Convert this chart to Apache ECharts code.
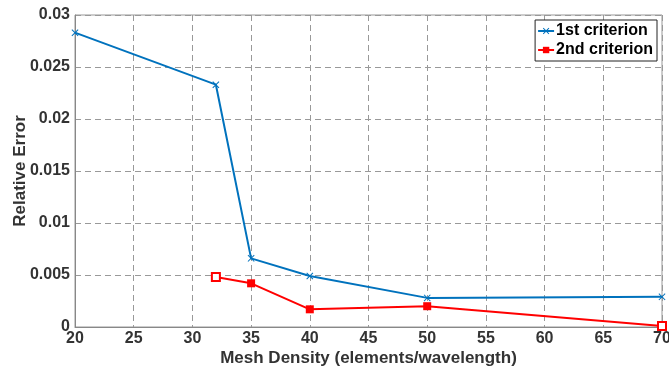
<!DOCTYPE html>
<html><head><meta charset="utf-8">
<script src="https://cdn.jsdelivr.net/npm/echarts@6/dist/echarts.min.js"></script>
<style>html,body{margin:0;padding:0;background:#fff}#c{width:669px;height:368px}</style>
</head><body><div id="c"></div>
<script>
const blueX = [20, 32, 35, 40, 50, 70];
const blueY = [0.0283, 0.0233, 0.0066, 0.0049, 0.0028, 0.0029];
const redX = [32, 35, 40, 50, 70];
const redY = [0.0048, 0.0042, 0.0017, 0.0020, 0.0001];
const seriesNames = ['1st criterion', '2nd criterion'];

const chart = echarts.init(document.getElementById('c'), null, {renderer: 'canvas'});
const font = 'Liberation Sans, Arial, sans-serif';
const xMark = 'path://M0,1L1,0L5,4L9,0L10,1L6,5L10,9L9,10L5,6L1,10L0,9L4,5Z';
const hollow = {color: '#fff', borderColor: '#FF0000', borderWidth: 2};
chart.setOption({
  animation: false,
  grid: {left: 75, right: 7, top: 15, bottom: 41, show: true, borderColor: '#999', borderWidth: 1,
         containLabel: false, outerBoundsMode: 'none'},
  legend: {
    orient: 'vertical', right: 12, top: 20,
    borderColor: '#222', borderWidth: 1, padding: [3, 4, 3, 2], itemGap: 3,
    itemWidth: 16, itemHeight: 8,
    backgroundColor: '#fff',
    textStyle: {fontFamily: font, fontWeight: 'bold', fontSize: 16, color: '#000', padding: [0, 0, 0, -3]},
    data: seriesNames
  },
  xAxis: {
    type: 'value', min: 20, max: 70, interval: 5,
    name: 'Mesh Density (elements/wavelength)', nameLocation: 'middle', nameGap: 23,
    nameMoveOverlap: false,
    nameTextStyle: {fontFamily: font, fontWeight: 'bold', fontSize: 17, color: '#333', verticalAlign: 'top'},
    axisLine: {lineStyle: {color: '#888'}},
    axisTick: {show: false},
    axisLabel: {fontFamily: font, fontWeight: 'bold', fontSize: 16, color: '#333', margin: 4},
    splitLine: {lineStyle: {color: '#999', type: [6, 4]}}
  },
  yAxis: {
    type: 'value', min: 0, max: 0.03, interval: 0.005,
    name: 'Relative Error', nameLocation: 'middle', nameGap: 46,
    nameMoveOverlap: false,
    nameTextStyle: {fontFamily: font, fontWeight: 'bold', fontSize: 17, color: '#333'},
    axisLine: {show: true, lineStyle: {color: '#888'}},
    axisTick: {show: false},
    axisLabel: {fontFamily: font, fontWeight: 'bold', fontSize: 16, color: '#333', margin: 5},
    splitLine: {lineStyle: {color: '#999', type: [6, 4]}}
  },
  series: [
    {
      name: seriesNames[0], type: 'line',
      data: blueX.map((x, i) => [x, blueY[i]]),
      symbol: xMark, symbolSize: 7,
      lineStyle: {color: '#0072BD', width: 2},
      itemStyle: {color: '#0072BD'}
    },
    {
      name: seriesNames[1], type: 'line',
      data: redX.map((x, i) => (i === 0 || i === redX.length - 1)
        ? {value: [x, redY[i]], itemStyle: hollow}
        : [x, redY[i]]),
      symbol: 'rect', symbolSize: 8,
      lineStyle: {color: '#FF0000', width: 2},
      itemStyle: {color: '#FF0000'}
    }
  ]
});
</script></body></html>
